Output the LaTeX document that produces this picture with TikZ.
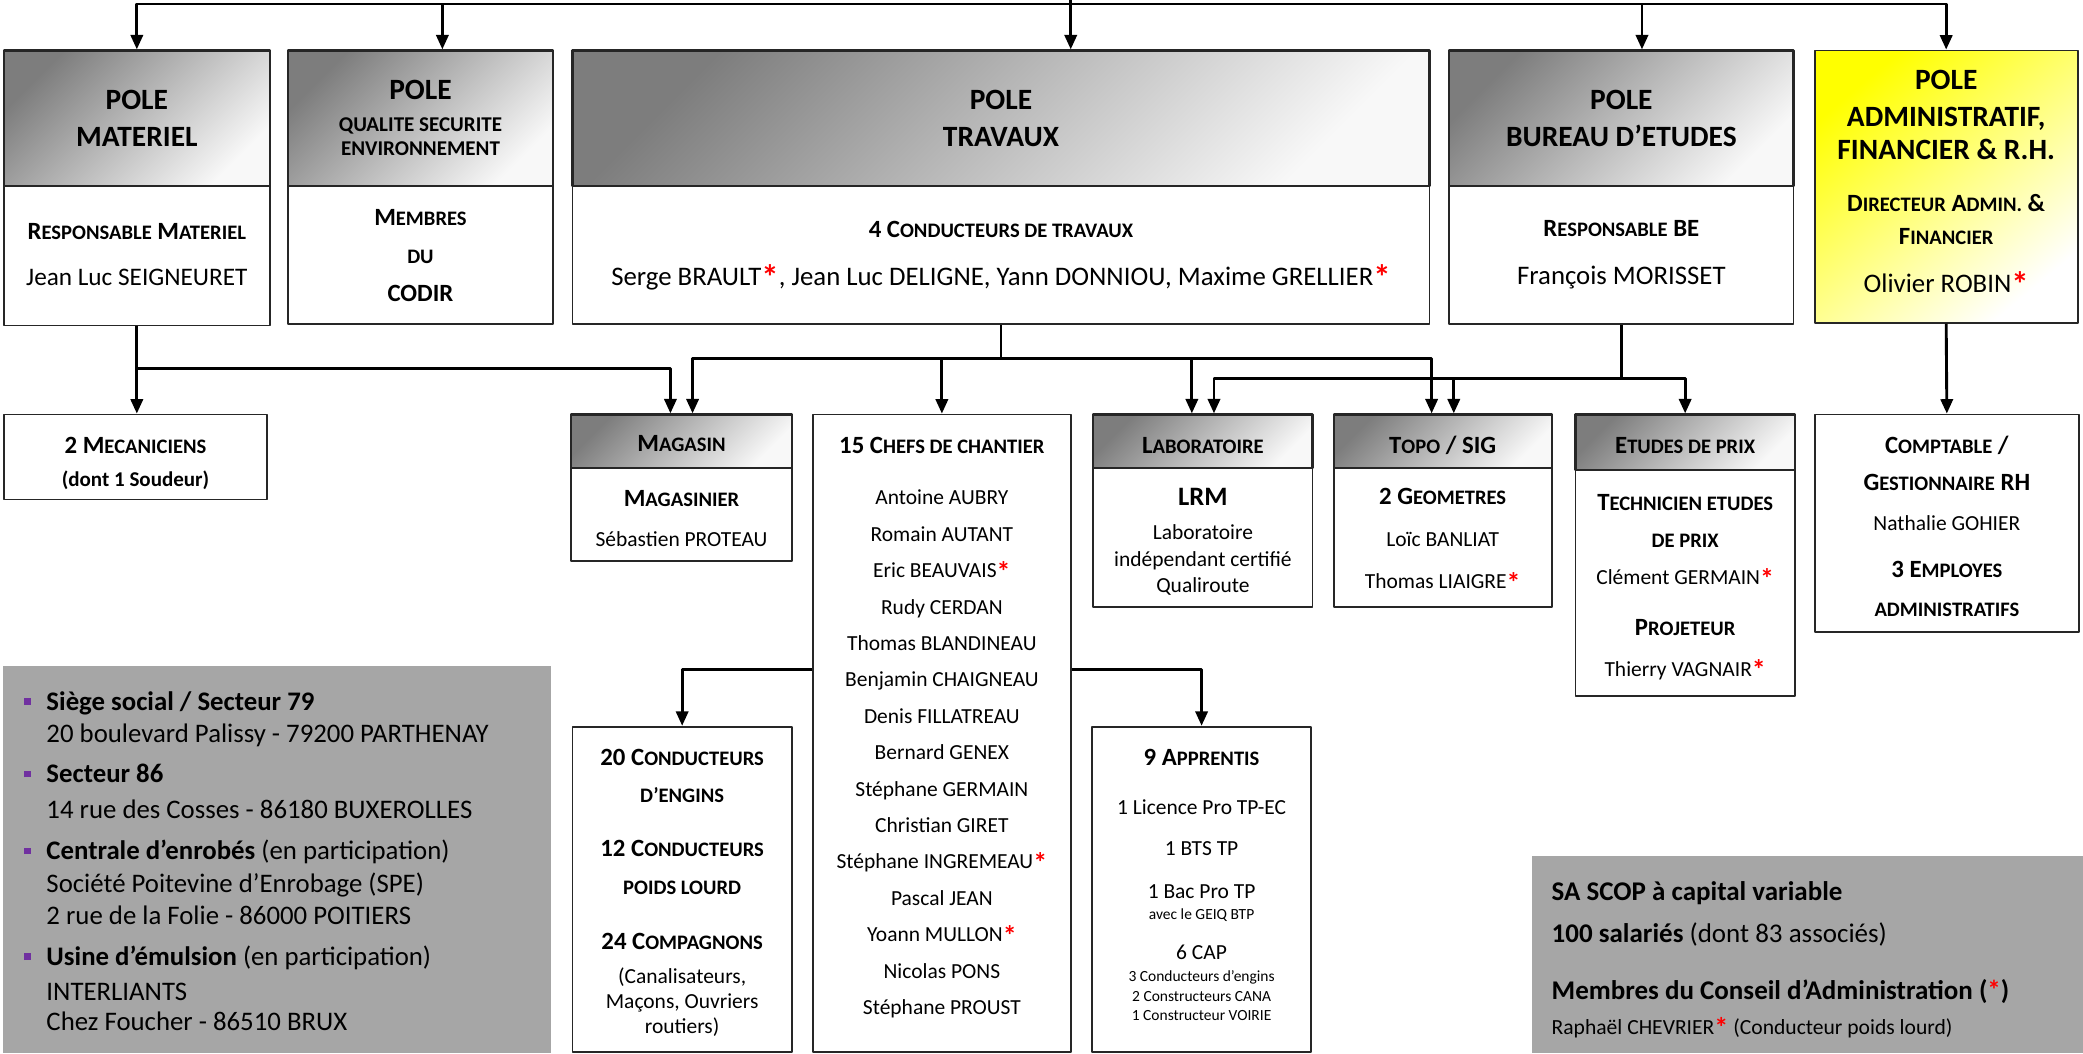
\documentclass[tikz,border=0pt]{standalone}
\usepackage{fontspec}
\usepackage{graphicx}
\setmainfont{Carlito}
\usetikzlibrary{arrows.meta,fit}
\definecolor{hdark}{RGB}{125,125,125}
\definecolor{hlight}{RGB}{248,248,248}
\definecolor{ydark}{RGB}{255,255,0}
\definecolor{infog}{RGB}{166,166,166}
\definecolor{puce}{RGB}{112,48,160}
\newcommand\lc[1]{\scalebox{0.83}{#1}}
\newcommand\cad{\textcolor{red}{\raisebox{-1.6pt}[0pt][0pt]{\scalebox{1.3}{\textbf{*}}}}}
\newcommand\pc{\llap{\textcolor{puce}{\rule[2.5pt]{3pt}{3pt}}\hspace{7pt}}}
\newcommand\hdf{\fontsize{13.3}{16}\selectfont\bfseries}
\newcommand\sth{\fontsize{11.2}{13}\selectfont\bfseries}
\newcommand\nmt{\fontsize{12.1}{13}\selectfont}
\newcommand\nmb{\fontsize{9.7}{12}\selectfont}
\newcommand\pti{\fontsize{7}{8}\selectfont}
\newcommand\bloc[2]{\raisebox{#1}[0pt][0pt]{\begin{tabular}[t]{@{}c@{}}#2\end{tabular}}}
\newcommand\blocg[3]{\raisebox{#1}[0pt][0pt]{\makebox[0pt][l]{\hspace{#2}\begin{tabular}[t]{@{}l@{}}#3\end{tabular}}}}
\begin{document}
\begin{tikzpicture}[x=0.6pt,y=-0.6pt,line join=round,>={Triangle[length=6.5pt,width=5.5pt]},
	box/.style={draw=black!85,line width=0.8pt,inner sep=0pt,font=\fontsize{10}{14}\selectfont},
	hdr/.style={box,line width=1pt,top color=hdark,bottom color=hlight,shading angle=45},
	jaune/.style={box,top color=ydark,middle color=yellow!22,bottom color=white,shading angle=40},
	info/.style={fill=infog,inner sep=0pt},
	lien/.style={line width=1.3pt}]
	\useasboundingbox (0,0) rectangle (1568,793);
	\node[hdr,fit={(3,38) (203,140)}] (mat) {\bloc{4.1pt}{{\hdf POLE}\\[2.8pt]{\hdf MATERIEL}}};
	\node[box,fit={(3,140) (203,245)}] (matb) {\bloc{7.5pt}{{\sth R\lc{ESPONSABLE} M\lc{ATERIEL}}\\[7pt]{\fontsize{11.4}{13}\selectfont Jean Luc SEIGNEURET}}};
	\node[hdr,fit={(217,38) (416,140)}] (qse) {\bloc{8.3pt}{{\hdf POLE}\\[0.4pt]{\bfseries\fontsize{9.5}{11}\selectfont QUALITE SECURITE}\\[-3.2pt]{\bfseries\fontsize{9.5}{11}\selectfont ENVIRONNEMENT}}};
	\node[box,fit={(217,140) (416,244)}] (qseb) {\bloc{13.2pt}{{\sth M\lc{EMBRES}}\\[3pt]{\sth\lc{DU}}\\[3pt]{\sth CODIR}}};
	\node[hdr,fit={(431,38) (1076,140)}] (trav) {\bloc{4.1pt}{{\hdf POLE}\\[2.8pt]{\hdf TRAVAUX}}};
	\node[box,fit={(431,140) (1076,244)}] (travb) {\bloc{7.8pt}{{\sth 4 C\lc{ONDUCTEURS DE TRAVAUX}}\\[7.6pt]{\nmt Serge BRAULT\cad, Jean Luc DELIGNE, Yann DONNIOU, Maxime GRELLIER\cad}}};
	\node[hdr,fit={(1091,38) (1350,140)}] (be) {\bloc{4.1pt}{{\hdf POLE}\\[2.8pt]{\hdf BUREAU D’ETUDES}}};
	\node[box,fit={(1091,140) (1350,244)}] (beb) {\bloc{8.4pt}{{\sth R\lc{ESPONSABLE} BE}\\[7.6pt]{\nmt François MORISSET}}};
	\node[jaune,fit={(1366,38) (1564,243)}] (adm) {\bloc{44pt}{{\hdf POLE}\\[2.8pt]{\hdf ADMINISTRATIF,}\\[1pt]{\hdf FINANCIER \& R.H.}\\[9.4pt]{\sth D\lc{IRECTEUR} A\lc{DMIN.} \&}\\[1pt]{\sth F\lc{INANCIER}}\\[7.6pt]{\nmt Olivier ROBIN\cad}}};
	\node[box,fit={(3,312) (201,376)}] (meca) {\bloc{1.8pt}{{\sth 2 M\lc{ECANICIENS}}\\[1pt]{\bfseries\fontsize{9.5}{11}\selectfont (dont 1 Soudeur)}}};
	\node[hdr,fit={(430,312) (596,352)}] (mag) {\bloc{-4.8pt}{{\sth M\lc{AGASIN}}}};
	\node[box,fit={(430,352) (596,422)}] (magb) {\bloc{3.6pt}{{\sth M\lc{AGASINIER}}\\[4pt]{\nmb Sébastien PROTEAU}}};
	\node[box,fit={(612,312) (806,792)}] (chefs) {\bloc{126.6pt}{{\sth 15 C\lc{HEFS DE CHANTIER}}\\[9.4pt]
		{\nmb Antoine AUBRY}\\[2.44pt]{\nmb Romain AUTANT}\\[2.44pt]{\nmb Eric BEAUVAIS\cad}\\[2.44pt]{\nmb Rudy CERDAN}\\[2.44pt]
		{\nmb Thomas BLANDINEAU}\\[2.44pt]{\nmb Benjamin CHAIGNEAU}\\[2.44pt]{\nmb Denis FILLATREAU}\\[2.44pt]{\nmb Bernard GENEX}\\[2.44pt]
		{\nmb Stéphane GERMAIN}\\[2.44pt]{\nmb Christian GIRET}\\[2.44pt]{\nmb Stéphane INGREMEAU\cad}\\[2.44pt]{\nmb Pascal JEAN}\\[2.44pt]
		{\nmb Yoann MULLON\cad}\\[2.44pt]{\nmb Nicolas PONS}\\[2.44pt]{\nmb Stéphane PROUST}}};
	\node[hdr,fit={(823,312) (988,352)}] (labo) {\bloc{-5.4pt}{{\sth L\lc{ABORATOIRE}}}};
	\node[box,fit={(823,352) (988,457)}] (labob) {\bloc{14.5pt}{{\bfseries\fontsize{12}{14}\selectfont LRM}\\[1.6pt]{\nmb Laboratoire}\\[-2pt]{\nmb indépendant certifié}\\[-2pt]{\nmb Qualiroute}}};
	\node[hdr,fit={(1004,312) (1168,352)}] (topo) {\bloc{-5.4pt}{{\sth T\lc{OPO} / SIG}}};
	\node[box,fit={(1004,352) (1168,457)}] (topob) {\bloc{14.7pt}{{\sth 2 G\lc{EOMETRES}}\\[4.6pt]{\nmb Loïc BANLIAT}\\[5.2pt]{\nmb Thomas LIAIGRE\cad}}};
	\node[hdr,fit={(1186,312) (1351,354)}] (prix) {\bloc{-4.8pt}{{\sth E\lc{TUDES DE PRIX}}}};
	\node[box,fit={(1186,354) (1351,524)}] (prixb) {\bloc{33pt}{{\sth T\lc{ECHNICIEN ETUDES}}\\[2.8pt]{\sth\lc{DE PRIX}}\\[2.8pt]{\nmb Clément GERMAIN\cad}\\[8.8pt]{\sth P\lc{ROJETEUR}}\\[4.6pt]{\nmb Thierry VAGNAIR\cad}}};
	\node[box,fit={(1366,312) (1565,476)}] (compt) {\bloc{31.8pt}{{\sth C\lc{OMPTABLE} /}\\[2.8pt]{\sth G\lc{ESTIONNAIRE} RH}\\[4pt]{\nmb Nathalie GOHIER}\\[7.6pt]{\sth 3 E\lc{MPLOYES}}\\[3.4pt]{\sth\lc{ADMINISTRATIFS}}}};
	\node[box,fit={(431,547) (596,792)}] (cond) {\bloc{56.1pt}{{\sth 20 C\lc{ONDUCTEURS}}\\[2.8pt]{\sth\lc{D’ENGINS}}\\[10.6pt]{\sth 12 C\lc{ONDUCTEURS}}\\[2.8pt]{\sth\lc{POIDS LOURD}}\\[11.2pt]{\sth 24 C\lc{OMPAGNONS}}\\[1pt]{\nmb (Canalisateurs,}\\[-2.6pt]{\nmb Maçons, Ouvriers}\\[-2.6pt]{\nmb routiers)}}};
	\node[box,fit={(822,547) (987,792)}] (appr) {\bloc{56.1pt}{{\sth 9 A\lc{PPRENTIS}}\\[8.2pt]{\nmb 1 Licence Pro TP-EC}\\[4.6pt]{\nmb 1 BTS TP}\\[5.2pt]{\nmb 1 Bac Pro TP}\\[-4.4pt]{\pti avec le GEIQ BTP}\\[4pt]{\nmb 6 CAP}\\[-3.8pt]{\pti 3 Conducteurs d’engins}\\[-5pt]{\pti 2 Constructeurs CANA}\\[-5.6pt]{\pti 1 Constructeur VOIRIE}}};
	\node[info,font=\fontsize{12.1}{14.8}\selectfont,fit={(2,501) (415,793)}] (siege) {\blocg{67.5pt}{-104.1pt}{\pc\textbf{Siège social / Secteur 79}\\20 boulevard Palissy - 79200 PARTHENAY\\[3.2pt]\pc\textbf{Secteur 86}\\[1.4pt]14 rue des Cosses - 86180 BUXEROLLES\\[3.8pt]\pc\textbf{Centrale d’enrobés} (en participation)\\Société Poitevine d’Enrobage (SPE)\\[-0.4pt]2 rue de la Folie - 86000 POITIERS\\[3.8pt]\pc\textbf{Usine d’émulsion} (en participation)\\[0.8pt]INTERLIANTS\\[-1pt]Chez Foucher - 86510 BRUX}};
	\node[info,font=\fontsize{12.2}{14}\selectfont,fit={(1153,644) (1568,793)}] (scop) {\blocg{24.6pt}{-115.5pt}{\textbf{SA SCOP à capital variable}\\[5.2pt]\textbf{100 salariés} (dont 83 associés)\\[11.8pt]\textbf{Membres du Conseil d’Administration (\textcolor{red}{*})}\\[1.6pt]{\fontsize{9.75}{11}\selectfont Raphaël CHEVRIER\cad{} (Conducteur poids lourd)}}};
	\coordinate (haut) at (806,-5);
	\coordinate (bus) at (806,3);
	\coordinate (pq) at (333,3);
	\coordinate (pb) at (1236,3);
	\draw[lien] (haut) -- (bus);
	\draw[lien,->] (bus) -| (mat.north);
	\draw[lien,->] (bus) -- (pq) -- (qse.north -| pq);
	\draw[lien,->] (bus) -- (trav.north -| bus);
	\draw[lien,->] (bus) -- (pb) -- (be.north -| pb);
	\draw[lien,->] (bus) -| (adm.north);
	\draw[lien,->] (matb.south) -- (meca.north -| matb.south);
	\draw[lien,->] (matb.south) ++(0,32) coordinate (m1) -| ([xshift=-5pt]mag.north);
	\draw[lien] (travb.south) -- ++(0,25) coordinate (t1);
	\draw[lien,->] (t1) -| ([xshift=5pt]mag.north);
	\draw[lien,->] (t1) -| (chefs.north);
	\draw[lien,->] (t1) -| ([xshift=-5pt]labo.north);
	\draw[lien,->] (t1) -| ([xshift=-5pt]topo.north);
	\draw[lien] (beb.south) -- ++(0,40) coordinate (b1);
	\draw[lien,->] (b1) -| ([xshift=5pt]labo.north);
	\draw[lien,->] (b1) -| ([xshift=5pt]topo.north);
	\draw[lien,->] (b1) -| (prix.north);
	\draw[lien,->] (adm.south) -- (compt.north);
	\draw[lien,->] ([yshift=28.8pt]chefs.west) -| (cond.north);
	\draw[lien,->] ([yshift=28.8pt]chefs.east) -| (appr.north);
\end{tikzpicture}
\end{document}
